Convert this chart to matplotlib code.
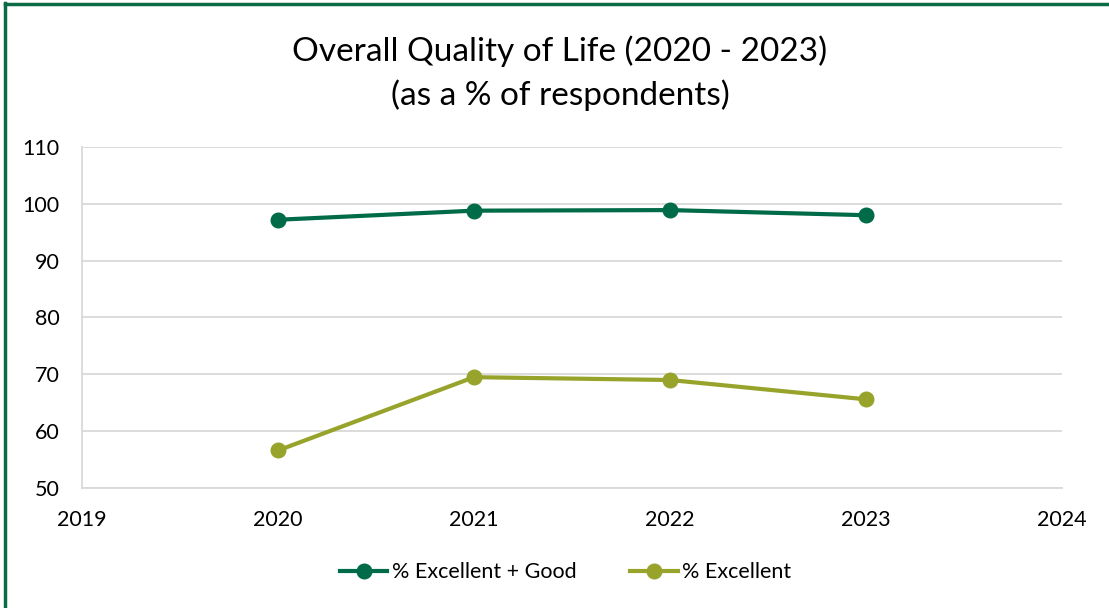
import matplotlib.pyplot as plt
from matplotlib.lines import Line2D

years = [2020, 2021, 2022, 2023]
excellent_good = [97.2, 98.8, 98.9, 98.0]
excellent = [56.6, 69.5, 69.0, 65.6]
series_names = ["% Excellent + Good", "% Excellent"]
title = "Overall Quality of Life (2020 - 2023)\n(as a % of respondents)"

dark_green = "#006B48"
olive = "#97A32A"
grid_col = "#D9D9D9"

plt.rcParams['font.family'] = ['Lato', 'DejaVu Sans']

fig = plt.figure(figsize=(11.09, 6.08), dpi=100)
ax = fig.add_axes([0.0739, 0.1974, 0.8837, 0.5608])

ax.plot(years, excellent_good, color=dark_green, lw=3, marker='o', ms=10.5,
        label=series_names[0], zorder=3)
ax.plot(years, excellent, color=olive, lw=3, marker='o', ms=10.5,
        label=series_names[1], zorder=3)

ax.set_xlim(2019, 2024)
ax.set_ylim(50, 110)
ax.set_xticks(range(2019, 2025))
ax.set_yticks(range(50, 111, 10))
ax.grid(axis='y', color=grid_col, lw=1.3)
ax.set_axisbelow(True)
ax.tick_params(length=0, labelsize=15.5)
ax.tick_params(axis='x', pad=16)
ax.tick_params(axis='y', pad=16)
for s in ['top', 'right']:
    ax.spines[s].set_visible(False)
for s in ['left', 'bottom']:
    ax.spines[s].set_color(grid_col)
    ax.spines[s].set_linewidth(1.3)

fig.text(0.505, 0.879, title, ha='center', va='center', fontsize=24,
         linespacing=1.48)

fig.legend(loc='center', bbox_to_anchor=(0.51, 0.059), ncol=2, frameon=False,
           fontsize=15.5, handlelength=2.2, columnspacing=2.5, handletextpad=0.2)

# border of the cropped frame
fig.add_artist(Line2D([0.0045, 0.0045], [0, 0.995], color="#0B6B45", lw=2.5,
                      transform=fig.transFigure))
fig.add_artist(Line2D([0.0045, 1], [0.9935, 0.9935], color="#0B6B45", lw=2.5,
                      transform=fig.transFigure))

fig.savefig("out.png", dpi=100)
